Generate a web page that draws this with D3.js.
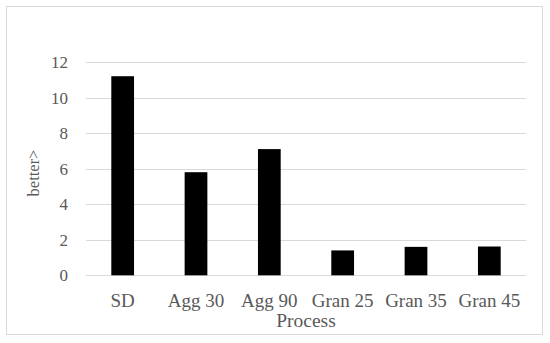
<!DOCTYPE html>
<html>
<head>
<meta charset="utf-8">
<script src="https://cdn.jsdelivr.net/npm/d3@7"></script>
<style>
  body { margin: 0; background: white; }
  text { font-family: "Liberation Serif", serif; fill: #595959; }
</style>
</head>
<body>
<div id="chart"></div>
<script>
// data
var processes = ["SD", "Agg 30", "Agg 90", "Gran 25", "Gran 35", "Gran 45"];
var values = [11.2, 5.8, 7.1, 1.4, 1.6, 1.62];
var yTicks = [0, 2, 4, 6, 8, 10, 12];

var width = 550, height = 343;

var svg = d3.select("#chart")
  .append("svg")
    .attr("width", width)
    .attr("height", height);

// frame round the figure
svg.append("rect")
  .attr("x", 6.5).attr("y", 6.5)
  .attr("width", 536).attr("height", 328)
  .attr("fill", "white")
  .attr("stroke", "#d9d9d9");

var x = d3.scaleBand()
  .domain(processes)
  .range([86, 526])
  .paddingInner(0.69)
  .paddingOuter(0.345);

var y = d3.scaleLinear()
  .domain([0, 12])
  .range([275.3, 62]);

// gridlines
svg.append("g")
  .selectAll("line")
  .data(yTicks)
  .enter()
  .append("line")
    .attr("x1", 86).attr("x2", 526)
    .attr("y1", function(d){ return Math.round(y(d)) + 0.5; })
    .attr("y2", function(d){ return Math.round(y(d)) + 0.5; })
    .attr("stroke", "#d9d9d9")
    .attr("stroke-width", 1.2);

// y tick labels
var yAxis = svg.append("g")
  .attr("transform", "translate(86,0)")
  .call(d3.axisLeft(y).tickValues(yTicks).tickSize(0).tickPadding(18));
yAxis.select(".domain").remove();
yAxis.selectAll("text")
  .style("font-size", "17px")
  .style("font-family", "Liberation Serif, serif")
  .attr("fill", "#595959");

// bars
svg.append("g")
  .selectAll("rect")
  .data(values)
  .enter()
  .append("rect")
    .attr("x", function(d, i){ return x(processes[i]); })
    .attr("width", x.bandwidth())
    .attr("y", function(d){ return y(d); })
    .attr("height", function(d){ return y(0) - y(d); })
    .attr("fill", "black");

// x labels
var xAxis = svg.append("g")
  .attr("transform", "translate(0,275)")
  .call(d3.axisBottom(x).tickSize(0).tickPadding(19));
xAxis.select(".domain").remove();
xAxis.selectAll("text")
  .style("font-size", "19px")
  .style("font-family", "Liberation Serif, serif")
  .attr("fill", "#595959");

// axis titles
svg.append("text")
  .attr("x", 306)
  .attr("y", 327)
  .attr("text-anchor", "middle")
  .style("font-size", "19.5px")
  .text("Process");

svg.append("text")
  .attr("transform", "translate(39,173) rotate(-90)")
  .attr("text-anchor", "middle")
  .style("font-size", "16.5px")
  .text("better>");
</script>
</body>
</html>
